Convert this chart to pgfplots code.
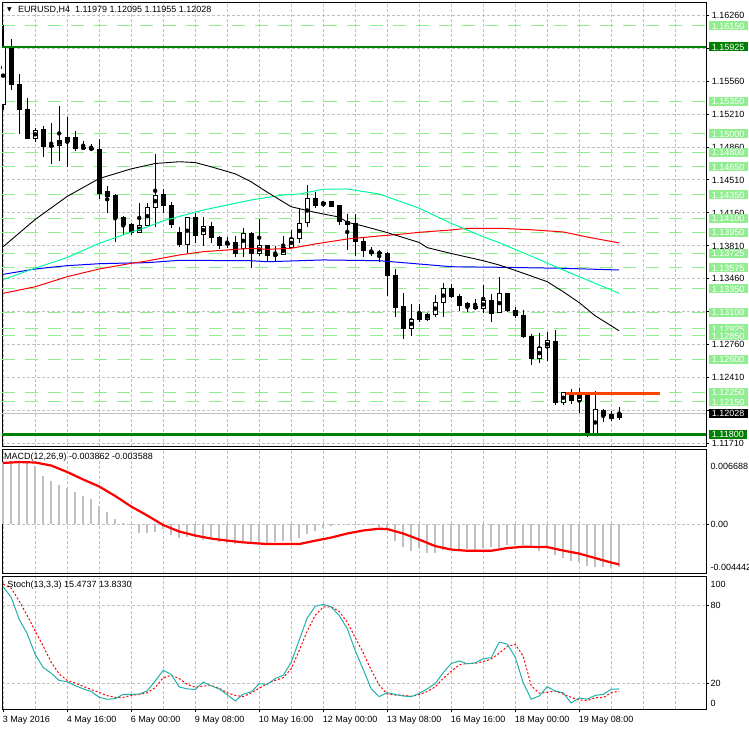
\documentclass[border=0pt]{standalone}
\usepackage{pgfplots}
\pgfplotsset{compat=1.18}
\usepackage{pgfplotstable}
\usepackage{fontspec}
\setmainfont{Liberation Sans}
\newfontfamily\dejavu{DejaVu Sans}
\definecolor{lgreen}{HTML}{90EE90}
\definecolor{dgreen}{HTML}{008000}
\definecolor{grd}{HTML}{C0C0C0}
\definecolor{spring}{HTML}{00FA9A}
\definecolor{orred}{HTML}{FF4500}
\definecolor{lsg}{HTML}{20B2AA}
\newcommand\lf{\fontsize{9bp}{10bp}\selectfont}

% EURUSD H4 candles: bar index, open, high, low, close, up(1)/down(0)
\pgfplotstableread{
i o h l c u
0 1.15318 1.16159 1.15255 1.15925 1
1 1.15925 1.16010 1.15467 1.15531 0
2 1.15531 1.15634 1.14999 1.15258 0
3 1.15262 1.15379 1.14943 1.14949 0
4 1.14953 1.15060 1.14917 1.15039 1
5 1.15049 1.15084 1.14758 1.14864 0
6 1.14882 1.15113 1.14680 1.14868 0
7 1.14879 1.15297 1.14715 1.14935 1
8 1.14922 1.15183 1.14651 1.14964 1
9 1.14967 1.15034 1.14822 1.14850 0
10 1.14861 1.14925 1.14826 1.14840 0
11 1.14850 1.14890 1.14818 1.14836 0
12 1.14840 1.14946 1.14311 1.14368 0
13 1.14382 1.14446 1.14162 1.14332 0
14 1.14340 1.14358 1.13847 1.14113 0
15 1.14116 1.14127 1.13925 1.14038 0
16 1.14038 1.14055 1.13925 1.13949 0
17 1.13953 1.14262 1.13949 1.14028 1
18 1.14028 1.14268 1.14020 1.14219 1
19 1.14219 1.14786 1.14006 1.14350 1
20 1.14350 1.14414 1.14155 1.14236 0
21 1.14244 1.14279 1.13996 1.14038 0
22 1.13953 1.14013 1.13800 1.13826 0
23 1.13826 1.14119 1.13730 1.14113 1
24 1.14116 1.14162 1.13836 1.13917 0
25 1.13932 1.14119 1.13811 1.14020 1
26 1.14020 1.14063 1.13840 1.13900 0
27 1.13900 1.13917 1.13772 1.13815 0
28 1.13840 1.13906 1.13783 1.13826 0
29 1.13840 1.13917 1.13687 1.13730 0
30 1.13783 1.13996 1.13694 1.13943 1
31 1.13943 1.13960 1.13570 1.13730 0
32 1.13730 1.14092 1.13701 1.13811 1
33 1.13808 1.13820 1.13651 1.13704 0
34 1.13719 1.13808 1.13651 1.13704 0
35 1.13719 1.13914 1.13712 1.13794 1
36 1.13794 1.13978 1.13783 1.13889 1
37 1.13889 1.14198 1.13836 1.14049 1
38 1.14055 1.14457 1.14013 1.14315 1
39 1.14315 1.14385 1.14209 1.14244 0
40 1.14247 1.14279 1.14226 1.14273 1
41 1.14279 1.14286 1.14219 1.14226 0
42 1.14236 1.14244 1.14031 1.14066 0
43 1.14073 1.14148 1.13765 1.14038 0
44 1.14042 1.14148 1.13701 1.13853 0
45 1.13853 1.13889 1.13694 1.13758 0
46 1.13754 1.13800 1.13701 1.13730 0
47 1.13736 1.13765 1.13640 1.13730 0
48 1.13730 1.13747 1.13276 1.13499 0
49 1.13499 1.13560 1.13055 1.13151 0
50 1.13162 1.13304 1.12815 1.12928 0
51 1.12932 1.13187 1.12850 1.13028 1
52 1.13102 1.13190 1.13002 1.13028 0
53 1.13028 1.13098 1.13013 1.13084 1
54 1.13081 1.13286 1.13055 1.13204 1
55 1.13204 1.13411 1.13055 1.13357 1
56 1.13350 1.13403 1.13257 1.13268 0
57 1.13276 1.13294 1.13119 1.13172 0
58 1.13198 1.13215 1.13109 1.13162 0
59 1.13169 1.13240 1.13127 1.13140 0
60 1.13145 1.13393 1.13098 1.13226 1
61 1.13226 1.13297 1.13002 1.13091 0
62 1.13098 1.13481 1.13091 1.13304 1
63 1.13304 1.13311 1.13109 1.13119 0
64 1.13119 1.13155 1.13045 1.13066 0
65 1.13066 1.13127 1.12825 1.12843 0
66 1.12850 1.12871 1.12541 1.12613 0
67 1.12613 1.12879 1.12559 1.12725 1
68 1.12725 1.12889 1.12587 1.12797 1
69 1.12797 1.12914 1.12116 1.12140 0
70 1.12140 1.12257 1.12116 1.12247 1
71 1.12247 1.12283 1.12123 1.12162 0
72 1.12162 1.12293 1.12034 1.12240 1
73 1.12240 1.12251 1.11778 1.11789 0
74 1.11789 1.12265 1.11785 1.12070 1
75 1.12063 1.12070 1.11935 1.12009 0
76 1.12020 1.12052 1.11945 1.11970 0
77 1.11979 1.12095 1.11955 1.12028 1
}\candles

% MACD(12,26,9) main value per bar
\pgfplotstableread{
i m
0 0.00555
1 0.00564
2 0.00555
3 0.00547
4 0.00520
5 0.00430
6 0.00386
7 0.00350
8 0.00321
9 0.00288
10 0.00252
11 0.00225
12 0.00163
13 0.00109
14 0.00044
15 0.00011
16 -0.00007
17 -0.00076
18 -0.00081
19 -0.00070
20 -0.00046
21 -0.00096
22 -0.00126
23 -0.00112
24 -0.00112
25 -0.00141
26 -0.00126
27 -0.00156
28 -0.00165
29 -0.00177
30 -0.00168
31 -0.00168
32 -0.00159
33 -0.00168
34 -0.00159
35 -0.00147
36 -0.00153
37 -0.00123
38 -0.00088
39 -0.00058
40 -0.00034
41 -0.00019
42 -0.00010
43 -0.00004
44 0.00002
45 0.00000
46 -0.00004
47 -0.00028
48 -0.00049
49 -0.00147
50 -0.00201
51 -0.00237
52 -0.00213
53 -0.00257
54 -0.00257
55 -0.00228
56 -0.00213
57 -0.00228
58 -0.00219
59 -0.00228
60 -0.00213
61 -0.00206
62 -0.00213
63 -0.00188
64 -0.00183
65 -0.00188
66 -0.00213
67 -0.00237
68 -0.00206
69 -0.00278
70 -0.00302
71 -0.00331
72 -0.00338
73 -0.00376
74 -0.00382
75 -0.00385
76 -0.00391
77 -0.003862
}\macd

% Stoch(13,3,3) main and signal per bar
\pgfplotstableread{
i k d
0 94 96
1 86 93
2 69 83
3 58 72
4 42 60
5 32 48.5
6 27.5 36
7 22 27
8 21 22
9 18 20
10 15.5 17.5
11 13.5 15
12 9 12.8
13 7.5 10.3
14 8 9
15 11.3 9
16 11.3 10.5
17 11.5 11.2
18 14 12.5
19 21.5 16.5
20 29.8 24
21 26.7 26
22 17 23.5
23 15.5 19
24 15 16.8
25 20.8 17.7
26 17.8 18.2
27 15.5 16
28 11 12.5
29 6.2 10.5
30 11.5 9.5
31 13.1 12.5
32 19.5 16
33 19 19.5
34 23.5 22
35 25.9 24.1
36 36 31
37 53 45
38 70 60
39 79 72
40 80.5 78.5
41 78.5 78.7
42 72 75
43 62 67
44 45 55
45 30.5 43.3
46 15.5 30
47 9.5 18.5
48 12.6 11.5
49 11.3 10.8
50 10 10.6
51 9.5 9.8
52 12 11
53 15.5 13.5
54 19.5 17
55 28 23.5
56 35 29
57 37 34
58 34.8 35.1
59 35.5 35.1
60 38.7 36.5
61 39.5 38.5
62 51.5 43
63 50 48
64 40 49.8
65 20.2 40.8
66 7.6 18
67 10 12.2
68 17.2 12.8
69 13.8 13.8
70 12.5 11.5
71 4.6 9
72 8.5 7
73 7.6 6.5
74 10.5 8.7
75 11.3 8.7
76 15.2 12.5
77 15.4737 13.8330
}\stoch

\pgfplotsset{
  mt4/.style={scale only axis, width=704bp, xmin=-0.15, xmax=87.85,
    axis line style={line width=1bp},
    grid style={grd, dash pattern=on 3bp off 2bp, line width=1bp},
    scaled ticks=false, yticklabels={}, ytick pos=right,
    tick align=outside, major tick length=3bp,
    tick style={black, line width=1bp},
    clip mode=individual},
}
\tikzset{
  rl/.style={anchor=west, inner xsep=3.4bp, inner ysep=0pt, text height=6.5bp,
    text depth=0pt, minimum height=9bp, font=\lf},
  lgl/.style={rl, fill=lgreen, text=white},
  dgl/.style={rl, fill=dgreen, text=white},
  sl/.style={anchor=west, inner xsep=2bp, inner ysep=0pt, font=\lf},
}

\begin{document}
\begin{tikzpicture}
\useasboundingbox (0bp,0bp) rectangle (749bp,731bp);

% ---------- main price window ----------
\begin{axis}[mt4, at={(2bp,284bp)}, anchor=south west, height=444.5bp,
  ymin=1.11669, ymax=1.16398,
  xtick={0,4,...,84}, xticklabels={}, xmajorgrids, xtick style={draw=none},
  ytick={1.11710,1.12060,1.12410,1.12760,1.13110,1.13460,1.13810,1.14160,1.14510,1.14860,1.15210,1.15560,1.15910,1.16260},
  ymajorgrids]
  % support / resistance levels
  \pgfplotsinvokeforeach{1.16150,1.15350,1.15000,1.14800,1.14650,1.14350,1.14100,1.13950,1.13725,1.13575,1.13350,1.13100,1.12925,1.12850,1.12600,1.12250,1.12150}{
    \addplot[lgreen, line width=1bp, dash pattern=on 13bp off 10bp] coordinates {(-0.15,#1) (87.85,#1)};
  }
  \addplot[grd, line width=1bp] coordinates {(-0.15,1.12028) (87.85,1.12028)};
  % wicks
  \addplot[only marks, mark=none, error bars/.cd, y dir=both, y explicit, error mark=none,
    error bar style={draw=black, line width=1bp}]
    table[x=i, y expr={(\thisrow{h}+\thisrow{l})/2}, y error expr={(\thisrow{h}-\thisrow{l})/2}] {\candles};
  % bodies
  \addplot[only marks, mark=none, error bars/.cd, y dir=both, y explicit, error mark=none,
    error bar style={draw=black, line width=5bp, shorten >=-0.5bp}]
    table[x=i, y expr={(\thisrow{o}+\thisrow{c})/2}, y error expr={abs(\thisrow{c}-\thisrow{o})/2}] {\candles};
  \addplot[only marks, mark=none, restrict expr to domain={\thisrow{u}}{0.5:1.5},
    error bars/.cd, y dir=both, y explicit, error mark=none,
    error bar style={draw=white, line width=3bp, shorten >=0.5bp}]
    table[x=i, y expr={(\thisrow{o}+\thisrow{c})/2}, y error expr={abs(\thisrow{c}-\thisrow{o})/2}] {\candles};
  % moving averages
  \addplot[blue, line width=1bp] coordinates {(0,1.13506) (4,1.13563) (6,1.13581) (8,1.13598) (12,1.13619) (16,1.13627) (18,1.13630) (22,1.13655) (31,1.13651) (33,1.13640) (40,1.13659) (47,1.13651) (51,1.13623) (56,1.13587) (62,1.13581) (70,1.13570) (77,1.13552)};
  \addplot[red, line width=1bp] coordinates {(0,1.13304) (4,1.13374) (8,1.13481) (12,1.13563) (16,1.13623) (18,1.13648) (22,1.13712) (25,1.13747) (31,1.13783) (33,1.13772) (36,1.13783) (39,1.13829) (43,1.13882) (47,1.13914) (50,1.13935) (52,1.13953) (56,1.13978) (58,1.13996) (62,1.13996) (66,1.13980) (70,1.13957) (73,1.13903) (77,1.13840)};
  \addplot[spring, line width=1bp] coordinates {(0,1.13450) (4,1.13572) (8,1.13685) (12,1.13836) (16,1.13955) (18,1.14010) (20,1.14075) (25,1.14190) (31,1.14297) (35,1.14350) (37,1.14360) (40,1.14411) (43,1.14414) (47,1.14361) (52,1.14209) (56,1.14049) (60,1.13906) (62,1.13843) (66,1.13700) (70,1.13552) (77,1.13304)};
  \addplot[black, line width=0.9bp] coordinates {(0,1.13800) (4,1.14090) (8,1.14335) (12,1.14525) (16,1.14628) (19,1.14685) (22,1.14704) (24,1.14695) (26,1.14650) (29,1.14575) (31,1.14490) (33,1.14380) (36,1.14225) (39,1.14165) (42,1.14115) (43,1.14060) (45,1.14020) (48,1.13950) (52,1.13845) (53,1.13790) (56,1.13728) (60,1.13651) (62,1.13605) (64,1.13548) (68,1.13428) (70,1.13321) (72,1.13205) (74,1.13065) (77,1.12905)};
  % key levels
  \addplot[dgreen, line width=2.8bp] coordinates {(-0.15,1.15925) (87.85,1.15925)};
  \addplot[dgreen, line width=2.8bp] coordinates {(-0.15,1.11800) (87.85,1.11800)};
  \addplot[orred, line width=3bp] coordinates {(70.35,1.12240) (82.1,1.12240)};
  % price scale
  \pgfplotsinvokeforeach{1.16260,1.15560,1.15210,1.14860,1.14510,1.14160,1.13810,1.13460,1.12760,1.12410,1.11710}{
    \node[rl] at (axis cs:88.14,#1) {#1};
  }
  \pgfplotsinvokeforeach{1.16150,1.15350,1.15000,1.14800,1.14650,1.14350,1.14100,1.13950,1.13725,1.13575,1.13350,1.13100,1.12925,1.12850,1.12600,1.12250,1.12150}{
    \node[lgl] at (axis cs:88.14,#1) {#1};
  }
  \node[dgl] at (axis cs:88.14,1.15925) {1.15925};
  \node[dgl] at (axis cs:88.14,1.11800) {1.11800};
  \node[rl, fill=black, text=white] at (axis cs:88.14,1.12028) {1.12028};
  \node[anchor=west, inner sep=0pt, font={\dejavu\fontsize{6bp}{7bp}\selectfont}] at ([xshift=5bp,yshift=-7.5bp]rel axis cs:0,1) {▼};
  \node[anchor=west, inner sep=0pt, font=\lf] at ([xshift=16bp,yshift=-7.5bp]rel axis cs:0,1) {EURUSD,H4\ \ 1.11979 1.12095 1.11955 1.12028};
\end{axis}

% ---------- MACD window ----------
\begin{axis}[mt4, at={(2bp,157bp)}, anchor=south west, height=124.7bp,
  ymin=-0.004442, ymax=0.006688,
  xtick={0,4,...,84}, xticklabels={}, xmajorgrids, xtick style={draw=none},
  ytick={0}, ymajorgrids]
  \addplot[ycomb, grd, line width=1.5bp] table[x=i, y=m] {\macd};
  \addplot[red, line width=2.2bp] coordinates {(0,0.00547) (2,0.00555) (4,0.00551) (6,0.00524) (8,0.00466) (10,0.00399) (12,0.00337) (14,0.00252) (16,0.00158) (18,0.00078) (20,-0.00007) (22,-0.00065) (24,-0.00101) (26,-0.00128) (28,-0.00146) (30,-0.00162) (33,-0.00177) (37,-0.00177) (39,-0.00147) (41,-0.00119) (43,-0.00083) (45,-0.00056) (47,-0.00040) (48,-0.00043) (50,-0.00083) (52,-0.00137) (54,-0.00195) (56,-0.00226) (58,-0.00237) (61,-0.00237) (63,-0.00213) (65,-0.00201) (68,-0.00204) (70,-0.00235) (72,-0.00262) (74,-0.00302) (76,-0.00342) (77,-0.003588)};
  \node[sl] at (axis cs:88.14,0.0052) {0.006688};
  \node[sl] at (axis cs:88.14,0) {0.00};
  \node[sl] at (axis cs:88.14,-0.00388) {-0.004442};
  \node[anchor=west, inner sep=0pt, font=\lf] at ([xshift=2bp,yshift=-7.7bp]rel axis cs:0,1) {MACD(12,26,9) -0.003862 -0.003588};
\end{axis}

% ---------- Stochastic window ----------
\begin{axis}[mt4, at={(2bp,21.7bp)}, anchor=south west, height=132.6bp,
  ymin=-0.2, ymax=101.8,
  xtick={0,8,...,72}, xtick pos=bottom, xmajorgrids,
  xticklabels={3 May 2016,4 May 16:00,6 May 00:00,9 May 08:00,10 May 16:00,12 May 00:00,13 May 08:00,16 May 16:00,18 May 00:00,19 May 08:00},
  xticklabel style={anchor=north west, inner sep=0pt, font=\lf, yshift=-4bp, xshift=-0.5bp},
  extra x ticks={4,12,20,28,36,44,52,60,68,76,80,84}, extra x tick labels={},
  extra x tick style={grid=major, major tick length=0pt},
  ytick={20,80}, ymajorgrids]
  \addplot[red, line width=1bp, dash pattern=on 2bp off 2bp] table[x=i, y=d] {\stoch};
  \addplot[lsg, line width=1bp] table[x=i, y=k] {\stoch};
  \node[sl] at (axis cs:88.14,96.2) {100};
  \node[sl] at (axis cs:88.14,80) {80};
  \node[sl] at (axis cs:88.14,20) {20};
  \node[sl] at (axis cs:88.14,4.6) {0};
  \node[anchor=west, inner sep=0pt, font=\lf] at ([xshift=5.3bp,yshift=-8.6bp]rel axis cs:0,1) {Stoch(13,3,3) 15.4737 13.8330};
\end{axis}
\end{tikzpicture}
\end{document}
